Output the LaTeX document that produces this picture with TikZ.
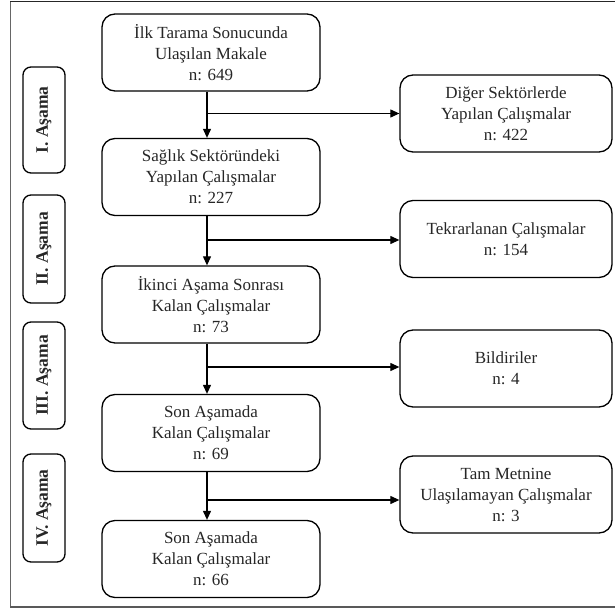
\documentclass[tikz,border=0pt]{standalone}
\usepackage{fontspec}
\setmainfont{Liberation Serif}
\usetikzlibrary{arrows.meta}
\begin{document}
\begin{tikzpicture}[x=1pt,y=-1pt,
  mainbox/.style={draw=black, line width=1.3pt, rounded corners=13pt, minimum width=218pt, minimum height=77pt, align=center, inner sep=2pt, font=\fontsize{17}{21}\selectfont, text=black!85},
  sidebox/.style={mainbox, minimum width=212pt},
  stagebox/.style={draw=black, line width=1.3pt, rounded corners=8pt, minimum height=42pt, rotate=90, inner sep=1pt, font=\fontsize{17.5}{20}\selectfont\bfseries, text=black!85},
  flow/.style={line width=1.1pt, -{Triangle[length=9pt,width=8pt]}},
  plain/.style={line width=1.1pt}]
\useasboundingbox (0,0) rectangle (615,612);
% frame
\draw[line width=1pt, black!85] (10,2) -- (616,2);
\draw[line width=0.8pt, black!60] (10,2) -- (10,607);
\draw[line width=2pt, black!65] (10,607) -- (616,607);
% main column
\node[mainbox] (b1) at (211,52.5) {İlk Tarama Sonucunda\\Ulaşılan Makale\\n: 649};
\node[mainbox] (b2) at (211,177) {Sağlık Sektöründeki\\Yapılan Çalışmalar\\n: 227};
\node[mainbox] (b3) at (211,304.5) {İkinci Aşama Sonrası\\Kalan Çalışmalar\\n: 73};
\node[mainbox] (b4) at (211,433) {Son Aşamada\\Kalan Çalışmalar\\n: 69};
\node[mainbox] (b5) at (211,559) {Son Aşamada\\Kalan Çalışmalar\\n: 66};
% side column
\node[sidebox] (r1) at (506,113.5) {Diğer Sektörlerde\\Yapılan Çalışmalar\\n: 422};
\node[sidebox] (r2) at (506,239) {Tekrarlanan Çalışmalar\\n: 154};
\node[sidebox] (r3) at (506,368.5) {Bildiriler\\n: 4};
\node[sidebox] (r4) at (506,494.5) {Tam Metnine\\Ulaşılamayan Çalışmalar\\n: 3};
% stage labels
\node[stagebox, minimum width=106pt] (s1) at (44,120) {I. Aşama};
\node[stagebox, minimum width=108pt] (s2) at (44,249) {II. Aşama};
\node[stagebox, minimum width=107pt] (s3) at (44,375.5) {III. Aşama};
\node[stagebox, minimum width=108pt] (s4) at (44,508) {IV. Aşama};
% connectors
\coordinate (ax) at (207,0);
\draw[flow] (b1.south -| ax) -- (b2.north -| ax);
\draw[flow] (b2.south -| ax) -- (b3.north -| ax);
\draw[flow] (b3.south -| ax) -- (b4.north -| ax);
\draw[flow] (b4.south -| ax) -- (b5.north -| ax);
\draw[flow] (ax |- r1.west) -- (r1.west);
\draw[flow] ([yshift=-1pt]ax |- r2.west) -- ([yshift=-1pt]r2.west);
\draw[flow] ([yshift=1.5pt]ax |- r3.west) -- ([yshift=1.5pt]r3.west);
\draw[flow] ([yshift=-5.5pt]ax |- r4.west) -- ([yshift=-5.5pt]r4.west);
\end{tikzpicture}
\end{document}
